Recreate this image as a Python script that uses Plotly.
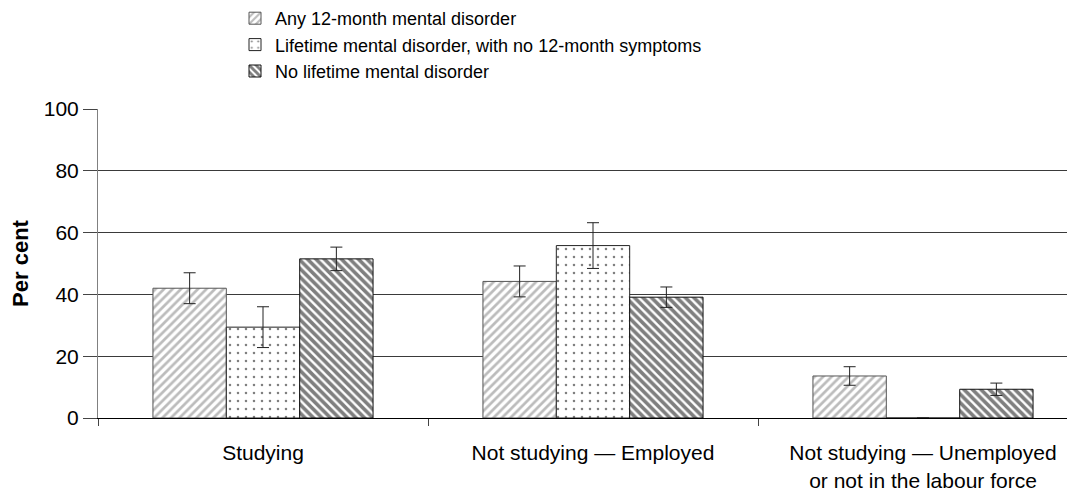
import plotly.graph_objects as go

categories = ["Studying", "Not studying — Employed", "Not studying — Unemployed<br>or not in the labour force"]
series_names = ["Any 12-month mental disorder",
                "Lifetime mental disorder, with no 12-month symptoms",
                "No lifetime mental disorder"]
any_12m = [42.0, 44.2, 13.6]
any_12m_err = [5.0, 5.0, 3.0]
lifetime_no12m = [29.4, 55.8, 0.0]
lifetime_no12m_err = [6.6, 7.4, 0.0]
no_lifetime = [51.5, 39.1, 9.3]
no_lifetime_err = [3.8, 3.3, 2.0]
y_ticks = [0, 20, 40, 60, 80, 100]

FONT = "Liberation Sans, Arial, sans-serif"

styles = [
    dict(shape="/", fgcolor="#7a7a7a", bgcolor="white", size=6, solidity=0.45, line="#555555"),
    dict(shape=".", fgcolor="#000000", bgcolor="white", size=8, solidity=0.08, line="#222222"),
    dict(shape="\\", fgcolor="#000000", bgcolor="white", size=6, solidity=0.6, line="#111111"),
]
values = [any_12m, lifetime_no12m, no_lifetime]
errors = [any_12m_err, lifetime_no12m_err, no_lifetime_err]

fig = go.Figure()
for name, vals, errs, st in zip(series_names, values, errors, styles):
    fig.add_trace(go.Bar(
        x=categories, y=vals, name=name,
        marker=dict(
            color="white",
            pattern=dict(shape=st["shape"], fgcolor=st["fgcolor"], bgcolor=st["bgcolor"],
                         size=st["size"], solidity=st["solidity"], fillmode="overlay"),
            line=dict(color=st["line"], width=1),
        ),
        error_y=dict(type="data", array=errs, visible=True, color="#222222", thickness=1, width=6),
    ))

# page has an 8px body margin; figure coordinates are offset accordingly
fig.update_layout(
    width=1067, height=485,
    margin=dict(l=90, r=0, t=101, b=75, autoexpand=False),
    paper_bgcolor="white", plot_bgcolor="white",
    font=dict(family=FONT, size=21, color="black"),
    barmode="group", bargap=0.333, bargroupgap=0,
    showlegend=True,
    legend=dict(
        x=(227 - 90) / 977, y=1 + (101 + 8) / 309,
        xanchor="left", yanchor="top",
        font=dict(family=FONT, size=18, color="black"),
        bgcolor="rgba(0,0,0,0)", itemwidth=30, tracegroupgap=0,
    ),
)
fig.update_xaxes(
    type="category", range=[-0.5, 2.5 - 13 / 330],
    showline=True, linecolor="black", linewidth=1,
    ticks="outside", tickson="boundaries", ticklen=7, tickcolor="#444444",
    showgrid=False, tickfont=dict(size=21), tickangle=0, fixedrange=True,
    ticklabelstandoff=16,
)
fig.update_yaxes(
    range=[0, 100], tickvals=y_ticks,
    showline=True, linecolor="#808080", linewidth=1,
    ticks="outside", ticklen=14, tickcolor="#444444",
    showgrid=True, gridcolor="#3a3a3a", gridwidth=1,
    zeroline=False, tickfont=dict(size=21),
    title=dict(text="<b>Per cent</b>", font=dict(size=22), standoff=10),
)

fig.write_html("out.html")
